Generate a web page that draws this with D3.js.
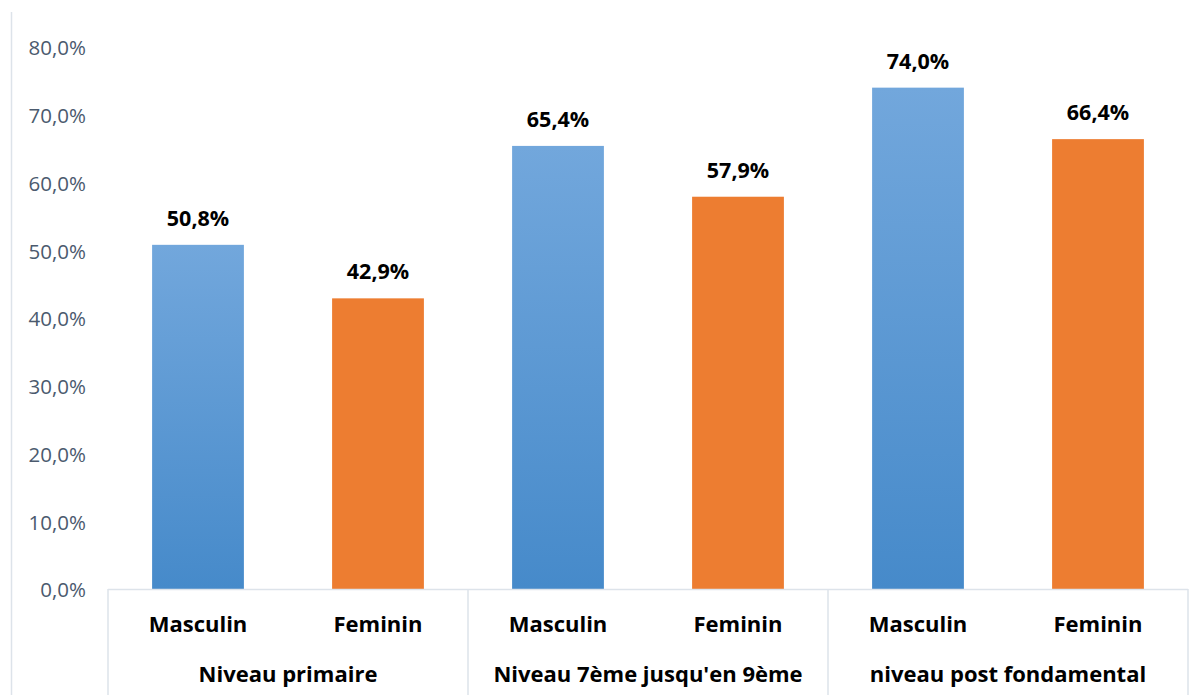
<!DOCTYPE html>
<html>
<head>
<meta charset="utf-8">
<script src="https://cdn.jsdelivr.net/npm/d3@7"></script>
<style>
  html, body { margin: 0; padding: 0; background: #fff; }
  svg { display: block; font-family: "Open Sans", "Noto Sans", sans-serif; }
</style>
</head>
<body>
<svg id="chart" width="1202" height="695"></svg>
<script>
// Niveaux d'instruction et sexes
const groups = ["Niveau primaire", "Niveau 7ème jusqu'en 9ème", "niveau post fondamental"];
const sexes = ["Masculin", "Feminin"];
// Pourcentages par niveau, dans l'ordre Masculin, Feminin
const masculin = [50.8, 65.4, 74.0];
const feminin = [42.9, 57.9, 66.4];
const yTicks = [0, 10, 20, 30, 40, 50, 60, 70, 80];

(function () {
  const rows = [];
  groups.forEach((g, i) => {
    rows.push({ key: g + "|M", group: g, sex: sexes[0], value: masculin[i] });
    rows.push({ key: g + "|F", group: g, sex: sexes[1], value: feminin[i] });
  });

  const svg = d3.select("#chart");
  const W = 1202, H = 695;
  const plotL = 108, plotR = 1188, plotT = 47, plotB = 589;

  const fmt = v => v.toFixed(1).replace(".", ",") + "%";

  // Gradient for the male bars
  const defs = svg.append("defs");
  const grad = defs.append("linearGradient")
    .attr("id", "blueGrad").attr("x1", 0).attr("y1", 0).attr("x2", 0).attr("y2", 1);
  grad.append("stop").attr("offset", "0%").attr("stop-color", "#72a7dc");
  grad.append("stop").attr("offset", "100%").attr("stop-color", "#468aca");

  // Outer frame line on the left
  svg.append("line")
    .attr("x1", 11.5).attr("x2", 11.5).attr("y1", 12).attr("y2", H)
    .attr("stroke", "#dde3ea").attr("stroke-width", 1.5);

  const x = d3.scaleBand().domain(rows.map(d => d.key)).range([plotL, plotR])
    .paddingInner(0.49).paddingOuter(0.245);
  const y = d3.scaleLinear().domain([0, 80]).range([plotB, plotT]);

  // Y axis labels
  const yAxis = d3.axisLeft(y).tickValues(yTicks).tickFormat(fmt).tickSize(0).tickPadding(0);
  const ya = svg.append("g").attr("transform", "translate(86,0)").call(yAxis);
  ya.select(".domain").remove();
  ya.selectAll("text")
    .attr("fill", "#4b5a6e")
    .attr("font-size", 20.5)
    .attr("dy", "0.38em")
    .attr("font-family", "'Open Sans', sans-serif");

  // Bars
  svg.append("g").selectAll("rect").data(rows).join("rect")
    .attr("x", d => x(d.key))
    .attr("width", x.bandwidth())
    .attr("y", d => y(d.value))
    .attr("height", d => y(0) - y(d.value))
    .attr("fill", d => d.sex === "Masculin" ? "url(#blueGrad)" : "#ed7d31");

  // Value labels
  svg.append("g").selectAll("text").data(rows).join("text")
    .attr("x", d => x(d.key) + x.bandwidth() / 2)
    .attr("y", d => y(d.value) - 19)
    .attr("text-anchor", "middle")
    .attr("font-size", 21.5)
    .attr("font-weight", 700)
    .attr("fill", "#000")
    .text(d => fmt(d.value));

  // Category axis: baseline and group separators
  const gx = d3.scaleBand().domain(groups).range([plotL, plotR]);
  const axisColor = "#dde3ea";
  svg.append("line")
    .attr("x1", plotL).attr("x2", plotR).attr("y1", plotB + 0.5).attr("y2", plotB + 0.5)
    .attr("stroke", axisColor).attr("stroke-width", 1.5);
  const seps = groups.map(g => gx(g)).concat([plotR]);
  svg.append("g").selectAll("line").data(seps).join("line")
    .attr("x1", d => d).attr("x2", d => d)
    .attr("y1", plotB).attr("y2", H)
    .attr("stroke", axisColor).attr("stroke-width", 1.5);

  // Sex labels
  svg.append("g").selectAll("text").data(rows).join("text")
    .attr("x", d => x(d.key) + x.bandwidth() / 2)
    .attr("y", 632)
    .attr("text-anchor", "middle")
    .attr("font-size", 22)
    .attr("font-weight", 700)
    .attr("fill", "#000")
    .text(d => d.sex);

  // Group labels
  svg.append("g").selectAll("text").data(groups).join("text")
    .attr("x", d => gx(d) + gx.bandwidth() / 2)
    .attr("y", 682)
    .attr("text-anchor", "middle")
    .attr("font-size", 22)
    .attr("font-weight", 700)
    .attr("fill", "#000")
    .text(d => d);
})();
</script>
</body>
</html>
